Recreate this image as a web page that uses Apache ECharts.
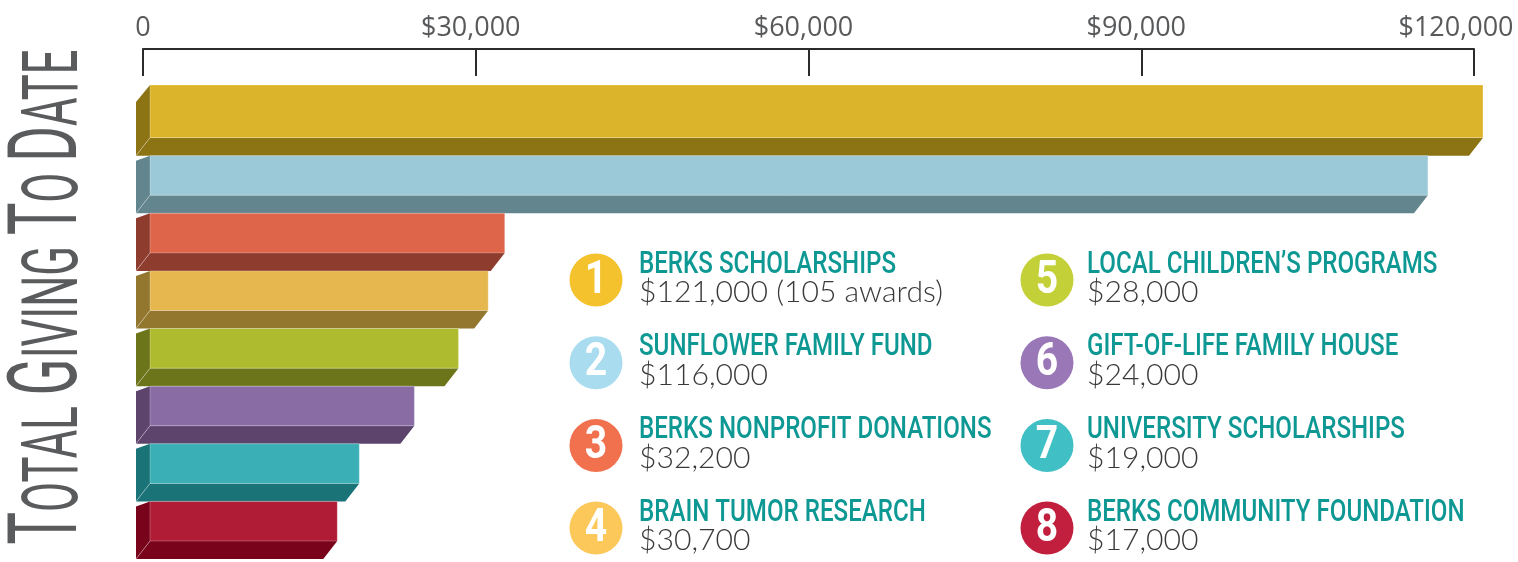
<!DOCTYPE html>
<html>
<head>
<meta charset="utf-8">
<script src="https://cdn.jsdelivr.net/npm/echarts@6/dist/echarts.min.js"></script>
<style>
  html, body { margin: 0; padding: 0; background: #fff; }
  #chart { width: 1518px; height: 562px; }
</style>
</head>
<body>
<div id="chart"></div>
<script>
const categories = ['Berks Scholarships', 'Sunflower Family Fund', 'Berks Nonprofit Donations', 'Brain Tumor Research',
  'Local Children’s Programs', 'Gift-of-Life Family House', 'University Scholarships', 'Berks Community Foundation'];
const values = [121000, 116000, 32200, 30700, 28000, 24000, 19000, 17000];
const notes = ['(105 awards)', '', '', '', '', '', '', ''];
const xMin = 0;
const xMax = 120000;
const xStep = 30000;
const titleParts = [['T', 'big'], ['OTAL ', 'small'], ['G', 'big'], ['IVING ', 'small'], ['T', 'big'], ['O ', 'small'], ['D', 'big'], ['ATE', 'small']];

const FRONT = ['#dcb42b', '#9bc9d8', '#df654a', '#e6b74f', '#afbb2e', '#8a6ca5', '#3aafb6', '#b01c35'];
const SIDE = ['#8c7415', '#62858e', '#8e3c2d', '#93772f', '#6c7519', '#5c446d', '#1a7377', '#7a031c'];
const BADGE = ['#f3c22c', '#a9dcef', '#f1714f', '#fdc85a', '#c4d037', '#9a77b7', '#40c0c4', '#c11f3d'];
const DEPTH_X = 14;
const DEPTH_Y = 18;
const FIRST_EXTRA = 13;

const ctx = document.createElement('canvas').getContext('2d');
function textWidth(str, font) {
  ctx.font = font;
  return ctx.measureText(str).width;
}

const money = v => '$' + v.toLocaleString('en-US');

function renderBar(params, api) {
  const i = params.dataIndex;
  const start = api.coord([0, i]);
  const end = api.coord([api.value(0), i]);
  const band = api.size([0, 1])[1];
  const top = start[1] - band / 2 - (i === 0 ? FIRST_EXTRA : 0);
  const bottom = start[1] + band / 2;
  const fb = bottom - DEPTH_Y;
  const x0 = start[0], x1 = end[0];
  const chamfer = i === 0 ? 17 : 5;
  return {
    type: 'group',
    children: [
      { type: 'polygon', shape: { points: [[x0, top], [x0, fb], [x0 - DEPTH_X, bottom], [x0 - DEPTH_X, top + chamfer]] },
        style: { fill: SIDE[i] } },
      { type: 'polygon', shape: { points: [[x0, fb], [x1, fb], [x1 - DEPTH_X, bottom], [x0 - DEPTH_X, bottom]] },
        style: { fill: SIDE[i] } },
      { type: 'rect', shape: { x: x0, y: top, width: x1 - x0, height: fb - top },
        style: { fill: FRONT[i], stroke: 'rgba(255,255,255,0.25)', lineWidth: 1 } },
      { type: 'line', shape: { x1: x0, y1: fb, x2: x0 - DEPTH_X, y2: bottom },
        style: { stroke: 'rgba(255,255,255,0.35)', lineWidth: 1 } }
    ]
  };
}

// legend: numbered badges, two columns
const TITLE_FONT = '500 31px Roboto';
const VALUE_FONT = '300 29px Lato';
const legendTexts = values.map((v, i) => money(v) + (notes[i] ? ' ' + notes[i] : ''));
const titleScale = 257 / textWidth(categories[0].toUpperCase(), TITLE_FONT);
const valueScale = 304 / textWidth(legendTexts[0], VALUE_FONT);

const graphic = [];
categories.forEach((name, i) => {
  const col = i < 4 ? 0 : 1;
  const row = i % 4;
  const cx = col ? 1047 : 596;
  const cy = 280 + row * 82.7;
  const tx = col ? 1087 : 639;
  graphic.push({ type: 'circle', shape: { cx: cx, cy: cy, r: 26.5 }, style: { fill: BADGE[i] } });
  graphic.push({ type: 'text', x: cx, y: cy + 1, scaleX: 0.85,
    style: { text: String(i + 1), fill: '#fff', font: 'bold 46px Roboto', align: 'center', verticalAlign: 'middle' } });
  graphic.push({ type: 'text', x: tx, y: cy - 15, scaleX: titleScale,
    style: { text: name.toUpperCase(), fill: '#0e9894', font: TITLE_FONT, align: 'left', verticalAlign: 'middle' } });
  graphic.push({ type: 'text', x: tx, y: cy + 13, scaleX: valueScale,
    style: { text: legendTexts[i], fill: '#3a3a3a', font: VALUE_FONT, align: 'left', verticalAlign: 'middle' } });
});

// vertical title with small caps
const BIG = 96, SMALL = 77;
const titleWidth = titleParts.reduce((s, p) => s + textWidth(p[0], (p[1] === 'big' ? BIG : SMALL) + 'px Roboto'), 0);
graphic.push({
  type: 'text', x: 52, y: 297, rotation: Math.PI / 2, scaleX: 495 / titleWidth,
  style: {
    text: titleParts.map(p => '{' + p[1] + '|' + p[0] + '}').join(''),
    align: 'center', verticalAlign: 'middle',
    rich: {
      big: { fontFamily: 'Roboto', fontSize: BIG, fill: '#5a5b5d' },
      small: { fontFamily: 'Roboto', fontSize: SMALL, fill: '#5a5b5d', padding: [11, 0, 0, 0] }
    }
  }
});

const labelFont = { fontFamily: 'Open Sans', fontSize: 27, color: '#58595b' };
const option = {
  animation: false,
  grid: [
    { left: 143, right: 44, top: 49, height: 10 },
    { left: 150, right: 46, top: 98, bottom: 3 }
  ],
  xAxis: [
    {
      gridIndex: 0, type: 'value', position: 'top', min: xMin, max: xMax, interval: xStep,
      axisLine: { show: true, onZero: false, lineStyle: { color: '#2b2b2b', width: 2 } },
      axisTick: { show: true, inside: true, length: 27, lineStyle: { color: '#2b2b2b', width: 2 } },
      splitLine: { show: false },
      axisLabel: Object.assign({
        margin: 7,
        formatter: v => v === 0 ? '0' : '{' + (v === xMax ? 'e' : 'm') + '|' + money(v) + '}',
        rich: {
          m: Object.assign({ padding: [0, 10, 0, 0] }, labelFont),
          e: Object.assign({ padding: [0, 36, 0, 0] }, labelFont)
        }
      }, labelFont)
    },
    { gridIndex: 1, type: 'value', min: xMin, max: xMax, show: false }
  ],
  yAxis: [
    { gridIndex: 0, type: 'value', show: false },
    { gridIndex: 1, type: 'category', data: categories, inverse: true, show: false }
  ],
  series: [{
    type: 'custom',
    xAxisIndex: 1,
    yAxisIndex: 1,
    clip: false,
    data: values.map((v, i) => [v, i]),
    encode: { x: 0, y: 1 },
    renderItem: renderBar
  }],
  graphic: graphic
};

const chart = echarts.init(document.getElementById('chart'), null, { renderer: 'canvas' });
chart.setOption(option);
</script>
</body>
</html>
